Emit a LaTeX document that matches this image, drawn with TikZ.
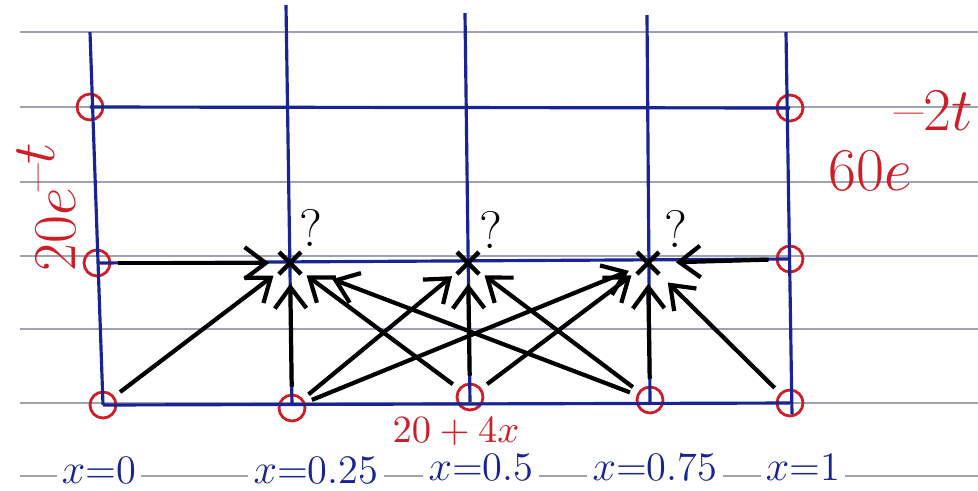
\documentclass[tikz,border=0pt]{standalone}
\usetikzlibrary{arrows.meta}
\definecolor{inkblue}{RGB}{25,35,145}
\definecolor{inkred}{RGB}{205,30,40}
\definecolor{ruled}{RGB}{160,162,178}
\begin{document}
\begin{tikzpicture}[x=0.01cm,y=-0.01cm,
  ruledline/.style={ruled, line width=0.45pt},
  gridline/.style={inkblue, line width=0.9pt},
  bnd/.style={circle, draw=inkred, line width=0.8pt, minimum size=0.26cm, inner sep=0pt},
  unk/.style={circle, minimum size=0.4cm, inner sep=0pt,
    path picture={\draw[black, line width=1.3pt]
      (path picture bounding box.center) +(-11,-11) -- +(11,11)
      (path picture bounding box.center) +(-11,11) -- +(11,-11);}},
  arr/.style={black, line width=1.2pt, -{Straight Barb[length=6pt,width=9pt]}, shorten <=2pt},
  qmark/.style={font=\fontsize{15}{15}\selectfont, black},
  redlabel/.style={inkred, inner sep=0pt},
  xlabel/.style={inkblue, font=\fontsize{11.5}{12}\selectfont, fill=white, inner sep=1.5pt}]
\useasboundingbox (0,0) rectangle (978,490);
% ruled paper lines
\foreach \yy in {32,107,182,256,329,403,476}
  \draw[ruledline] (20,\yy) -- (978,\yy);
% grid end points
\coordinate (V0) at (90,32);
\coordinate (V1) at (286,5);
\coordinate (V2) at (465,13);
\coordinate (V3) at (647,15);
\coordinate (V4) at (786,32);
\coordinate (V4b) at (792,414);
\coordinate (V1b) at (292,405);
\coordinate (V2b) at (470,402);
\coordinate (V3b) at (650,402);
% boundary and unknown points
\node[bnd] (T0) at (90,107) {};
\node[bnd] (T4) at (790,108) {};
\node[bnd] (L1) at (97,263) {};
\node[bnd] (R1) at (790,259) {};
\node[bnd] (B0) at (103,405) {};
\node[bnd] (B1) at (292,408) {};
\node[bnd] (B2) at (470,397) {};
\node[bnd] (B3) at (650,400) {};
\node[bnd] (B4) at (790,403) {};
% blue grid
\draw[gridline] (V0) -- (B0.center);
\draw[gridline] (V1) -- (V1b);
\draw[gridline] (V2) -- (V2b);
\draw[gridline] (V3) -- (V3b);
\draw[gridline] (V4) -- (V4b);
\draw[gridline] (T0.center) -- (T4.center);
\draw[gridline] (L1.center) -- (R1.center);
\draw[gridline] (B0.center) -- (B4.center);
% unknowns
\node[unk] (S1) at (290,263) {};
\node[unk] (S2) at (468,263) {};
\node[unk] (S3) at (648,263) {};
\node[qmark] (Q1) at (311,228) {?};
\node[qmark] (Q2) at (491,230) {?};
\node[qmark] (Q3) at (676,229) {?};
% arrows
\draw[arr] (L1) -- (S1);
\draw[arr] (B0) -- (S1);
\draw[arr] (B1) -- (S1);
\draw[arr] (B2) -- (S1);
\draw[arr, shorten >=7pt] (B3) -- (S1);
\draw[arr] (B1) -- (S2);
\draw[arr] (B2) -- (S2);
\draw[arr] (B3) -- (S2);
\draw[arr] (B1) -- (S3);
\draw[arr] (B2) -- (S3);
\draw[arr] (B3) -- (S3);
\draw[arr, shorten >=2pt] (B4) -- (S3);
\draw[arr, shorten >=2pt] (R1) -- (S3);
% boundary expressions
\node[redlabel, rotate=90, anchor=base west, font=\fontsize{17}{17}\selectfont]
  (leftbc) at (76,272) {$20e$\kern-1pt\raisebox{6pt}{\fontsize{17}{17}\selectfont --$t$}};
\node[redlabel, anchor=base west, font=\fontsize{18}{18}\selectfont]
  (rightbc) at (828,190) {$60e$\kern-5pt\raisebox{17pt}{\fontsize{18}{18}\selectfont --$2t$}};
\node[redlabel, font=\fontsize{10.5}{11}\selectfont] (bottombc) at (456,432) {$20+4x$};
% x labels
\node[xlabel] (X0) at (99,470) {$x$=0};
\node[xlabel] (X1) at (316,470) {$x$=0.25};
\node[xlabel] (X2) at (481,467) {$x$=0.5};
\node[xlabel] (X3) at (655,467) {$x$=0.75};
\node[xlabel] (X4) at (803,467) {$x$=1};
\end{tikzpicture}
\end{document}
